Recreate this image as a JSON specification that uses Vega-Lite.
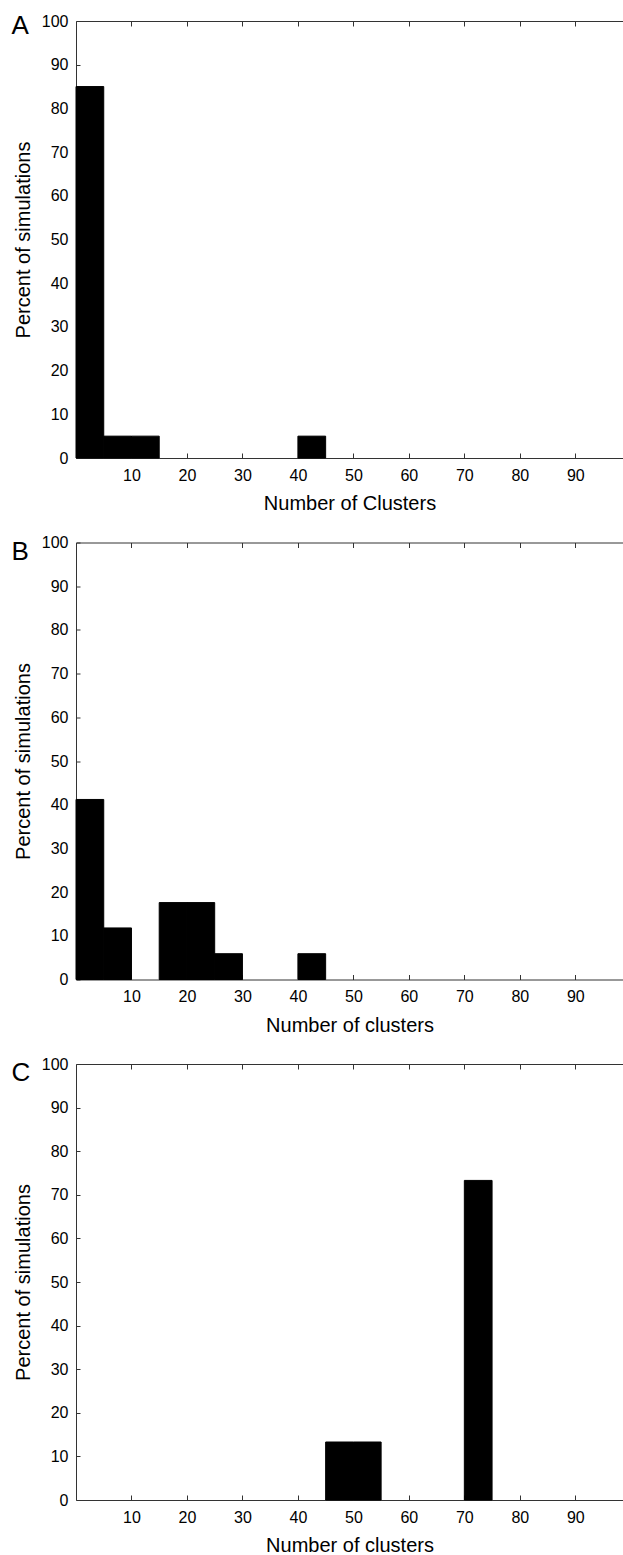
{
  "$schema": "https://vega.github.io/schema/vega-lite/v6.json",
  "padding": {"left": 11, "top": 12, "right": 0, "bottom": 0},
  "background": "white",
  "bounds": "flush",
  "spacing": 84.5,
  "config": {
    "view": {"stroke": null},
    "font": "Liberation Sans",
    "bar": {"binSpacing": 0},
    "axis": {
      "grid": false,
      "domainColor": "#333333",
      "tickColor": "#333333",
      "labelColor": "black",
      "titleColor": "black",
      "labelFontSize": 16,
      "titleFontSize": 20,
      "titleFontWeight": "normal"
    }
  },
  "datasets": {
    "A": [
      {"bin_start": 0, "bin_end": 5, "percent": 85},
      {"bin_start": 5, "bin_end": 10, "percent": 5},
      {"bin_start": 10, "bin_end": 15, "percent": 5},
      {"bin_start": 40, "bin_end": 45, "percent": 5}
    ],
    "B": [
      {"bin_start": 0, "bin_end": 5, "percent": 41.2},
      {"bin_start": 5, "bin_end": 10, "percent": 11.8},
      {"bin_start": 15, "bin_end": 20, "percent": 17.6},
      {"bin_start": 20, "bin_end": 25, "percent": 17.6},
      {"bin_start": 25, "bin_end": 30, "percent": 5.9},
      {"bin_start": 40, "bin_end": 45, "percent": 5.9}
    ],
    "C": [
      {"bin_start": 45, "bin_end": 50, "percent": 13.3},
      {"bin_start": 50, "bin_end": 55, "percent": 13.3},
      {"bin_start": 70, "bin_end": 75, "percent": 73.3}
    ]
  },
  "vconcat": [
    {
      "width": 547, "height": 437,
      "data": {"name": "A"},
      "layer": [
        {
          "mark": {"type": "bar", "color": "black", "stroke": "black", "strokeWidth": 1, "binSpacing": 0},
          "encoding": {
            "x": {"field": "bin_start", "type": "quantitative", "scale": {"domain": [0, 98.6], "nice": false, "zero": false},
              "axis": {"orient": "bottom", "values": [10, 20, 30, 40, 50, 60, 70, 80, 90], "tickSize": -5, "labelPadding": 14, "title": "Number of Clusters", "titlePadding": 10}},
            "x2": {"field": "bin_end"},
            "y": {"field": "percent", "type": "quantitative", "scale": {"domain": [0, 100], "nice": false},
              "axis": {"values": [0, 10, 20, 30, 40, 50, 60, 70, 80, 90, 100], "tickSize": -4, "labelPadding": 12, "title": "Percent of simulations", "titlePadding": 8}},
            "y2": {"datum": 0}
          }
        },
        {
          "mark": {"type": "bar", "opacity": 0, "binSpacing": 0},
          "encoding": {
            "x": {"field": "bin_start", "type": "quantitative",
              "axis": {"orient": "top", "values": [10, 20, 30, 40, 50, 60, 70, 80, 90], "tickSize": -5, "labels": false,
                "title": "A", "titleX": -65, "titleY": 12, "titleAngle": 0, "titleAlign": "left", "titleBaseline": "alphabetic", "titleFontSize": 26}},
            "x2": {"field": "bin_end"},
            "y": {"field": "percent", "type": "quantitative"},
            "y2": {"datum": 0}
          }
        }
      ],
      "resolve": {"axis": {"x": "independent"}}
    },
    {
      "width": 547, "height": 437,
      "data": {"name": "B"},
      "layer": [
        {
          "mark": {"type": "bar", "color": "black", "stroke": "black", "strokeWidth": 1, "binSpacing": 0},
          "encoding": {
            "x": {"field": "bin_start", "type": "quantitative", "scale": {"domain": [0, 98.6], "nice": false, "zero": false},
              "axis": {"orient": "bottom", "values": [10, 20, 30, 40, 50, 60, 70, 80, 90], "tickSize": -5, "labelPadding": 14, "title": "Number of clusters", "titlePadding": 11}},
            "x2": {"field": "bin_end"},
            "y": {"field": "percent", "type": "quantitative", "scale": {"domain": [0, 100], "nice": false},
              "axis": {"values": [0, 10, 20, 30, 40, 50, 60, 70, 80, 90, 100], "tickSize": -4, "labelPadding": 12, "title": "Percent of simulations", "titlePadding": 8}},
            "y2": {"datum": 0}
          }
        },
        {
          "mark": {"type": "bar", "opacity": 0, "binSpacing": 0},
          "encoding": {
            "x": {"field": "bin_start", "type": "quantitative",
              "axis": {"orient": "top", "values": [10, 20, 30, 40, 50, 60, 70, 80, 90], "tickSize": -5, "labels": false,
                "title": "B", "titleX": -65, "titleY": 17, "titleAngle": 0, "titleAlign": "left", "titleBaseline": "alphabetic", "titleFontSize": 26}},
            "x2": {"field": "bin_end"},
            "y": {"field": "percent", "type": "quantitative"},
            "y2": {"datum": 0}
          }
        }
      ],
      "resolve": {"axis": {"x": "independent"}}
    },
    {
      "width": 547, "height": 436,
      "data": {"name": "C"},
      "layer": [
        {
          "mark": {"type": "bar", "color": "black", "stroke": "black", "strokeWidth": 1, "binSpacing": 0},
          "encoding": {
            "x": {"field": "bin_start", "type": "quantitative", "scale": {"domain": [0, 98.6], "nice": false, "zero": false},
              "axis": {"orient": "bottom", "values": [10, 20, 30, 40, 50, 60, 70, 80, 90], "tickSize": -5, "labelPadding": 14, "title": "Number of clusters", "titlePadding": 10}},
            "x2": {"field": "bin_end"},
            "y": {"field": "percent", "type": "quantitative", "scale": {"domain": [0, 100], "nice": false},
              "axis": {"values": [0, 10, 20, 30, 40, 50, 60, 70, 80, 90, 100], "tickSize": -4, "labelPadding": 12, "title": "Percent of simulations", "titlePadding": 8}},
            "y2": {"datum": 0}
          }
        },
        {
          "mark": {"type": "bar", "opacity": 0, "binSpacing": 0},
          "encoding": {
            "x": {"field": "bin_start", "type": "quantitative",
              "axis": {"orient": "top", "values": [10, 20, 30, 40, 50, 60, 70, 80, 90], "tickSize": -5, "labels": false,
                "title": "C", "titleX": -65, "titleY": 16, "titleAngle": 0, "titleAlign": "left", "titleBaseline": "alphabetic", "titleFontSize": 26}},
            "x2": {"field": "bin_end"},
            "y": {"field": "percent", "type": "quantitative"},
            "y2": {"datum": 0}
          }
        }
      ],
      "resolve": {"axis": {"x": "independent"}}
    }
  ]
}
